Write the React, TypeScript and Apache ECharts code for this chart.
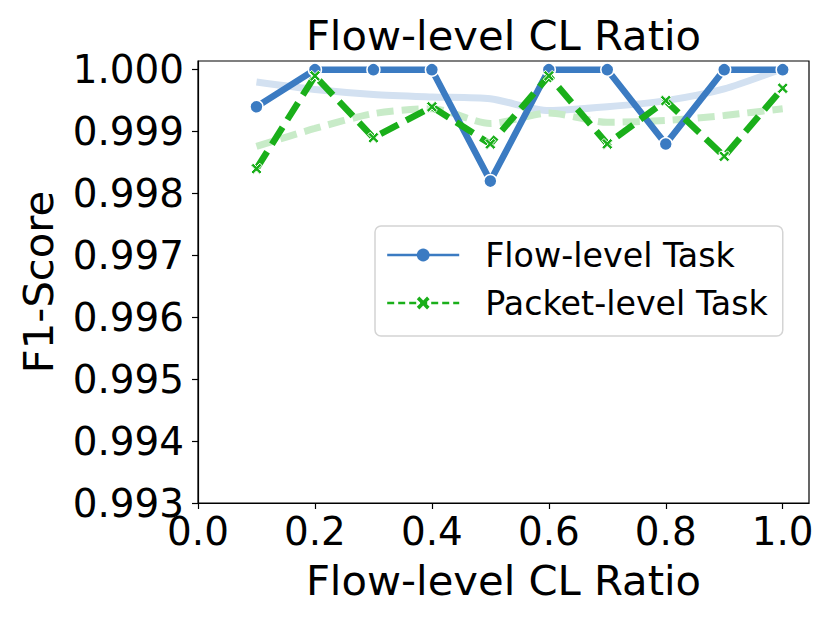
import React, { useEffect, useRef } from "react";
import * as echarts from "echarts";

const xValues = [0.1, 0.2, 0.3, 0.4, 0.5, 0.6, 0.7, 0.8, 0.9, 1.0];
const flowTask = [0.9994, 1.0, 1.0, 1.0, 0.9982, 1.0, 1.0, 0.9988, 1.0, 1.0];
const packetTask = [0.9984, 0.9999, 0.9989, 0.9994, 0.9988, 0.9999, 0.9988, 0.9995, 0.9986, 0.9997];
const flowTrend = [0.9998, 0.99968, 0.9996, 0.99956, 0.99953, 0.99934, 0.9994, 0.9995, 0.99969, 1.00002];
const packetTrend = [0.99876, 0.99905, 0.99929, 0.99937, 0.99913, 0.9993, 0.99915, 0.99918, 0.99926, 0.99937];
const xTicks = [0, 0.2, 0.4, 0.6, 0.8, 1.0];
const yTicks = [0.993, 0.994, 0.995, 0.996, 0.997, 0.998, 0.999, 1.0];

const FONT = "DejaVu Sans";
const BLUE = "#3b7bc2";
const GREEN = "#1aaf1a";
const X_PATH =
  "path://M0,2 L2,0 L5,3 L8,0 L10,2 L7,5 L10,8 L8,10 L5,7 L2,10 L0,8 L3,5 Z";

const pairs = (ys: number[]) => xValues.map((x, i) => [x, ys[i]]);

export default function App() {
  const ref = useRef<HTMLDivElement>(null);
  useEffect(() => {
    document.body.style.margin = "0";
    const chart = echarts.init(ref.current!, null, { renderer: "svg" });
    chart.setOption({
      animation: false,
      backgroundColor: "#fff",
      grid: {
        left: 198,
        top: 61,
        width: 611,
        height: 442,
        show: true,
        borderColor: "#000",
        borderWidth: 1.2,
        backgroundColor: "transparent",
      },
      xAxis: {
        type: "value",
        min: 0,
        max: 1.045,
        axisLine: { show: true, lineStyle: { color: "#000", width: 1.2 } },
        axisTick: { show: true, length: 6, customValues: xTicks, lineStyle: { color: "#000", width: 1.2 } },
        axisLabel: {
          customValues: xTicks,
          formatter: (v: number) => v.toFixed(1),
          fontFamily: FONT,
          fontSize: 38.9,
          color: "#000",
          margin: 9,
        },
        splitLine: { show: false },
      },
      yAxis: {
        type: "value",
        min: 0.993,
        max: 1.00014,
        axisLine: { show: true, lineStyle: { color: "#000", width: 1.2 } },
        axisTick: { show: true, length: 6, customValues: yTicks, lineStyle: { color: "#000", width: 1.2 } },
        axisLabel: {
          customValues: yTicks,
          formatter: (v: number) => v.toFixed(3),
          fontFamily: FONT,
          fontSize: 38.9,
          color: "#000",
          margin: 14,
        },
        splitLine: { show: false },
      },
      legend: {
        orient: "vertical",
        left: 375,
        top: 226,
        padding: [12, 15, 16, 11],
        itemWidth: 72,
        itemHeight: 16,
        itemGap: 14,
        backgroundColor: "#fff",
        borderColor: "#d4d4d4",
        borderWidth: 1.5,
        borderRadius: 6,
        textStyle: { fontFamily: FONT, fontSize: 33.3, color: "#000", lineHeight: 34, padding: [0, 0, 0, 21] },
        data: [
          {
            name: "Flow-level Task",
            lineStyle: { width: 2.4, color: BLUE, type: "solid" },
            itemStyle: { color: BLUE, borderWidth: 0 },
          },
          {
            name: "Packet-level Task",
            lineStyle: { width: 2.4, color: GREEN, type: [7, 4] },
            itemStyle: { color: GREEN, borderWidth: 0 },
          },
        ],
      },
      graphic: [
        {
          type: "text",
          style: {
            text: "Flow-level CL Ratio",
            x: 503.5,
            y: 35,
            align: "center",
            verticalAlign: "middle",
            fontFamily: FONT,
            fontSize: 41.7,
            fill: "#000",
          },
        },
        {
          type: "text",
          style: {
            text: "Flow-level CL Ratio",
            x: 503.5,
            y: 580,
            align: "center",
            verticalAlign: "middle",
            fontFamily: FONT,
            fontSize: 41.7,
            fill: "#000",
          },
        },
        {
          type: "text",
          x: 38,
          y: 282,
          rotation: Math.PI / 2,
          style: {
            text: "F1-Score",
            x: 0,
            y: 0,
            align: "center",
            verticalAlign: "middle",
            fontFamily: FONT,
            fontSize: 41.7,
            fill: "#000",
          },
        },
      ],
      series: [
        {
          name: "Flow trend",
          type: "line",
          data: pairs(flowTrend),
          showSymbol: false,
          smooth: 0.25,
          lineStyle: { color: "#d3e1f1", width: 7 },
          z: 1,
          silent: true,
        },
        {
          name: "Packet trend",
          type: "line",
          data: pairs(packetTrend),
          showSymbol: false,
          smooth: 0.25,
          lineStyle: { color: "#c8ebc8", width: 7, type: [17, 8] },
          z: 1,
          silent: true,
        },
        {
          name: "Flow-level Task",
          type: "line",
          data: pairs(flowTask),
          symbol: "circle",
          symbolSize: 13,
          color: BLUE,
          lineStyle: { color: BLUE, width: 6.5 },
          itemStyle: { color: BLUE, borderColor: "#fff", borderWidth: 1.5 },
          z: 3,
        },
        {
          name: "Packet-level Task",
          type: "line",
          data: pairs(packetTask),
          symbol: X_PATH,
          symbolSize: 11,
          color: GREEN,
          lineStyle: { color: GREEN, width: 6.5, type: [20, 9] },
          itemStyle: { color: GREEN, borderColor: "#fff", borderWidth: 1 },
          z: 4,
        },
      ],
    });
    return () => chart.dispose();
  }, []);
  return <div ref={ref} style={{ width: 830, height: 623 }} />;
}
